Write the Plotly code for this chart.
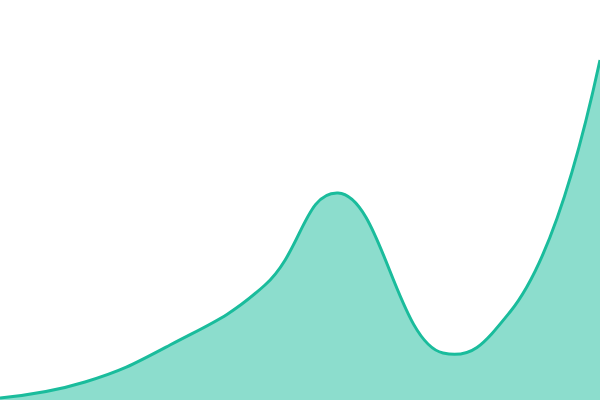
import plotly.graph_objects as go

x_vals = [0, 85, 170, 265, 338, 443, 510, 600]
y_vals = [2, 18, 55, 115, 207, 47, 88, 340]

fig = go.Figure()
fig.add_trace(go.Scatter(
    x=x_vals, y=y_vals, mode="lines",
    line=dict(color="#1abc9c", width=3, shape="spline", smoothing=1.3),
    fill="tozeroy", fillcolor="rgba(26,188,156,0.5)",
    hoverinfo="skip",
))
fig.update_layout(
    width=600, height=400,
    margin=dict(l=0, r=0, t=0, b=0),
    paper_bgcolor="white", plot_bgcolor="white",
    showlegend=False,
    xaxis=dict(range=[0, 600], visible=False, fixedrange=True),
    yaxis=dict(range=[0, 400], visible=False, fixedrange=True),
)
fig.write_html("out.html", config={"displayModeBar": False})

with open("out.html", "r", encoding="utf-8") as f:
    html = f.read()
html = html.replace("<body>", '<body style="margin:0;padding:0;overflow:hidden">', 1)
with open("out.html", "w", encoding="utf-8") as f:
    f.write(html)
